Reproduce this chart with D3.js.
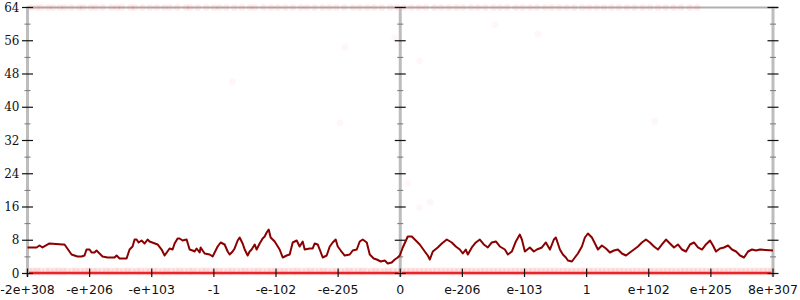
<!DOCTYPE html>
<html><head><meta charset="utf-8">
<script src="https://cdn.jsdelivr.net/npm/d3@7"></script>
<style>body{margin:0;background:#fff}svg{display:block}</style>
</head><body>
<svg id="c" width="800" height="300"></svg>
<script>
const xTickLabels = ["-2e+308","-e+206","-e+103","-1","-e-102","-e-205","0","e-206","e-103","1","e+102","e+205","8e+307"];
const yTicks = [0,8,16,24,32,40,48,56,64];
const yMinorTicks = [4,12,20,28,36,44,52,60];

const lineX = [0,0.145,0.193,0.242,0.354,0.564,0.596,0.709,0.805,0.870,0.918,0.950,0.999,1.031,1.079,1.111,1.208,1.289,1.401,1.434,1.482,1.595,1.643,1.691,1.724,1.756,1.788,1.836,1.885,1.933,1.965,2.094,2.159,2.207,2.287,2.336,2.368,2.416,2.448,2.497,2.561,2.610,2.658,2.690,2.722,2.771,2.787,2.851,2.932,2.980,3.061,3.109,3.173,3.222,3.254,3.302,3.334,3.383,3.415,3.463,3.496,3.544,3.576,3.608,3.657,3.689,3.737,3.785,3.818,3.850,3.882,3.914,3.979,4.059,4.108,4.172,4.220,4.269,4.333,4.381,4.430,4.462,4.543,4.591,4.623,4.671,4.704,4.752,4.816,4.865,4.913,4.961,4.994,5.042,5.106,5.187,5.235,5.300,5.348,5.396,5.461,5.509,5.573,5.622,5.686,5.751,5.799,5.863,5.912,5.960,5.992,6.041,6.121,6.186,6.250,6.314,6.395,6.443,6.476,6.524,6.604,6.669,6.749,6.830,6.894,6.959,7.007,7.055,7.088,7.152,7.217,7.281,7.345,7.410,7.474,7.539,7.603,7.684,7.732,7.796,7.861,7.925,7.958,8.006,8.086,8.151,8.199,8.280,8.344,8.409,8.473,8.505,8.570,8.618,8.666,8.699,8.763,8.811,8.860,8.924,8.972,9.021,9.085,9.134,9.182,9.246,9.311,9.375,9.440,9.504,9.568,9.633,9.697,9.762,9.826,9.890,9.955,10.019,10.084,10.148,10.213,10.277,10.341,10.406,10.470,10.535,10.599,10.664,10.728,10.792,10.857,10.921,10.986,11.034,11.082,11.147,11.211,11.276,11.340,11.405,11.469,11.534,11.598,11.662,11.727,11.791,12];
const lineY = [6.26,6.26,6.74,6.26,7.22,6.98,6.98,4.57,4.09,4.09,4.33,5.77,5.77,5.05,5.05,5.53,4.09,3.85,3.85,4.33,3.61,3.61,5.77,6.50,8.18,8.18,7.46,7.94,7.22,8.18,7.70,6.98,5.77,4.33,6.02,5.77,7.22,8.42,8.42,7.94,8.18,5.77,5.53,5.29,6.02,5.05,6.26,4.81,4.57,4.09,6.50,7.46,6.98,5.29,4.57,5.29,6.02,7.94,8.66,7.22,5.77,4.33,5.29,5.77,6.98,5.77,7.22,8.42,8.90,9.86,10.59,8.66,7.70,5.77,3.85,4.33,4.57,7.46,7.94,6.50,7.70,5.77,6.02,6.02,7.22,6.98,5.77,3.85,4.33,6.50,7.46,8.18,6.50,5.53,4.33,4.57,5.53,5.77,7.70,8.18,7.46,4.57,3.61,3.37,2.89,3.13,2.41,2.65,3.37,3.85,4.33,6.26,8.90,8.90,7.94,6.98,5.29,4.33,3.37,5.29,6.26,7.22,8.18,7.46,6.50,5.77,4.81,5.77,4.57,6.26,7.46,8.18,6.98,6.26,7.46,7.70,6.50,5.77,4.57,5.29,7.70,9.38,8.18,5.29,6.26,5.29,5.77,6.26,7.46,5.77,8.18,8.66,5.77,4.57,3.85,3.13,2.89,3.85,4.81,6.50,8.66,9.62,8.66,7.22,5.77,6.74,6.02,5.05,5.53,5.77,4.81,4.33,5.05,5.77,6.50,7.46,8.18,7.46,6.50,5.77,6.98,8.18,7.22,6.26,6.98,5.77,5.29,6.98,7.46,6.26,5.77,6.98,7.94,6.74,5.29,6.02,6.26,6.74,5.77,5.29,4.33,3.85,5.29,5.77,5.53,5.77,5.53];

const bottomX = [0.02,0.09,0.15,0.21,0.3,0.36,0.44,0.5,0.57,0.63,0.72,0.78,0.85,0.93,0.99,1.06,1.12,1.2,1.27,1.33,1.41,1.47,1.55,1.61,1.68,1.76,1.82,1.9,1.97,2.03,2.1,2.18,2.24,2.31,2.39,2.45,2.52,2.6,2.66,2.73,2.81,2.87,2.94,3.02,3.08,3.15,3.23,3.29,3.36,3.44,3.5,3.57,3.65,3.71,3.78,3.86,3.92,3.99,4.07,4.13,4.2,4.28,4.34,4.41,4.49,4.55,4.62,4.7,4.76,4.83,4.91,4.97,5.04,5.12,5.18,5.25,5.33,5.39,5.46,5.54,5.6,5.67,5.75,5.81,5.88,5.96,6.03,6.1,6.17,6.24,6.31,6.38,6.45,6.52,6.59,6.66,6.73,6.8,6.87,6.94,7.01,7.08,7.15,7.22,7.29,7.36,7.43,7.5,7.57,7.64,7.71,7.78,7.85,7.92,7.99,8.06,8.13,8.2,8.27,8.34,8.41,8.48,8.55,8.62,8.69,8.76,8.83,8.9,8.97,9.04,9.11,9.18,9.25,9.32,9.39,9.46,9.53,9.6,9.67,9.74,9.81,9.88,9.95,10.02,10.09,10.16,10.23,10.3,10.37,10.44,10.51,10.58,10.65,10.72,10.79,10.86,10.93,11.0,11.07,11.14,11.21,11.28,11.35,11.42,11.49,11.56,11.63,11.7,11.77,11.84,11.91,11.98];
const topX = [0.05,0.14,0.22,0.33,0.41,0.52,0.6,0.71,0.83,0.9,1.02,1.1,1.21,1.35,1.44,1.52,1.66,1.73,1.85,1.97,2.08,2.2,2.29,2.41,2.55,2.62,2.74,2.88,3.0,3.09,3.2,3.33,3.45,3.58,3.66,3.8,3.92,4.03,4.15,4.27,4.4,4.5,4.62,4.75,4.86,4.97,5.1,5.24,5.35,5.47,5.58,5.7,5.84,5.95,6.06,6.18,6.3,6.41,6.55,6.66,6.78,6.9,7.01,7.14,7.25,7.37,7.5,7.61,7.72,7.86,7.97,8.09,8.2,8.33,8.44,8.56,8.68,8.8,8.93,9.04,9.16,9.28,9.4,9.52,9.65,9.77,9.9,10.02,10.15,10.27,10.4,10.52,10.66,10.78];
const scatterX = [6.31,5.03,6.12,6.48,6.31,7.52,5.11,5.91,3.30,10.10,8.22];
const scatterY = [51.2,36.3,21.7,17.1,15.9,59.9,54.4,56.8,46.2,36.6,57.5];

const svg = d3.select("#c");
const x = d3.scaleLinear().domain([0,12]).range([27.5,773]);
const y = d3.scaleLinear().domain([0,64]).range([273.5,7.5]);

svg.append("line").attr("x1",x(0)).attr("x2",x(12)+5).attr("y1",y(64)).attr("y2",y(64))
  .attr("stroke","#b0b0b0").attr("stroke-width",2);

const pts = svg.append("g");
pts.selectAll("circle.b").data(bottomX).join("circle").attr("class","b")
  .attr("cx",d=>x(d)).attr("cy",y(0)-2).attr("r",4).attr("fill","#ff0000").attr("fill-opacity",0.09);
pts.selectAll("circle.t").data(topX).join("circle").attr("class","t")
  .attr("cx",d=>x(d)).attr("cy",y(64)).attr("r",3.5).attr("fill","#ff0000").attr("fill-opacity",0.07);
pts.selectAll("circle.s").data(scatterX).join("circle").attr("class","s")
  .attr("cx",d=>x(d)).attr("cy",(d,i)=>y(scatterY[i])).attr("r",3.5).attr("fill","#ff0000").attr("fill-opacity",0.03);

svg.append("line").attr("x1",x(0)).attr("x2",x(12)).attr("y1",y(0)-0.5).attr("y2",y(0)-0.5)
  .attr("stroke","#e8262a").attr("stroke-width",2.5);

function vAxis(pos, leftLabels){
  const cx = x(pos);
  const g = svg.append("g");
  g.append("line").attr("x1",cx).attr("x2",cx).attr("y1",y(64)-1).attr("y2",y(0)+3)
    .attr("stroke","#bdbdbd").attr("stroke-width",3);
  g.selectAll("line.mj").data(yTicks).join("line").attr("class","mj")
    .attr("x1",cx-5.5).attr("x2",cx+5.5).attr("y1",d=>y(d)).attr("y2",d=>y(d))
    .attr("stroke","#111").attr("stroke-width",1.2);
  g.selectAll("line.mn").data(yMinorTicks).join("line").attr("class","mn")
    .attr("x1",cx-3).attr("x2",cx+3).attr("y1",d=>y(d)).attr("y2",d=>y(d))
    .attr("stroke","#777").attr("stroke-width",1);
  if(leftLabels){
    g.selectAll("text").data(yTicks).join("text")
      .attr("x",cx-8).attr("y",d=>y(d)).attr("dy","0.35em").attr("text-anchor","end")
      .attr("font-family","DejaVu Serif").attr("font-size",12).attr("fill","#111").text(d=>d);
  }
}
vAxis(0,true); vAxis(6,false); vAxis(12,false);

const xt = svg.append("g");
xt.selectAll("line").data(xTickLabels).join("line")
  .attr("x1",(d,i)=>x(i)).attr("x2",(d,i)=>x(i)).attr("y1",y(0)-5).attr("y2",y(0)+3.5)
  .attr("stroke","#111").attr("stroke-width",1.2);
xt.selectAll("text").data(xTickLabels).join("text")
  .attr("x",(d,i)=>x(i)).attr("y",294).attr("text-anchor","middle")
  .attr("font-family","DejaVu Sans").attr("font-size",12.5).attr("fill","#111").text(d=>d);

const line = d3.line().x(d=>x(d[0])).y(d=>y(d[1]));
svg.append("path").datum(lineX.map((v,i)=>[v,lineY[i]]))
  .attr("d",line).attr("fill","none").attr("stroke","#8b0000").attr("stroke-width",2).attr("stroke-linejoin","round");
</script>
</body></html>
